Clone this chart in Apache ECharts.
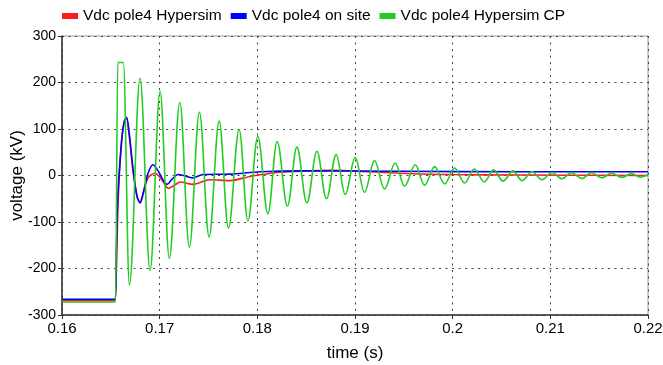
<!DOCTYPE html>
<html>
<head>
<meta charset="utf-8">
<script src="https://cdn.jsdelivr.net/npm/echarts@6/dist/echarts.min.js"></script>
<style>
html,body{margin:0;padding:0;background:#fff;}
#chart{width:663px;height:365px;}
</style>
</head>
<body>
<div id="chart"></div>
<script>
// ---- data (time in s, voltage in kV) ----
var seriesNames = ['Vdc pole4 Hypersim', 'Vdc pole4 on site', 'Vdc pole4 Hypersim CP'];

var hypersimT = [0.16, 0.16538, 0.16553, 0.16574, 0.16605, 0.16635, 0.16661, 0.16686, 0.16727, 0.16768,
  0.16799, 0.16830, 0.16881, 0.16953, 0.17025, 0.17091, 0.17158, 0.17209, 0.17342, 0.17516,
  0.17721, 0.17926, 0.18049, 0.18234, 0.18746, 0.19463, 0.19975, 0.20693, 0.22];
var hypersimV = [-269, -269, -230, -60, 60, 115, 122, 90, 10, -45,
  -58, -40, -5, 5, -10, -28, -20, -14, -19, -9,
  -11, -2, 2, 7, 11, 5, 2, 1, 0];

var onSiteT = [0.16, 0.16543, 0.16558, 0.16569, 0.16584, 0.16615, 0.16640, 0.16661, 0.16686, 0.16727,
  0.16768, 0.16799, 0.16840, 0.16881, 0.16932, 0.16984, 0.17035, 0.17076, 0.17127, 0.17189,
  0.17260, 0.17332, 0.17445, 0.17721, 0.18029, 0.18439, 0.19463, 0.20693, 0.22];
var onSiteV = [-266, -266, -150, -60, 0, 85, 118, 125, 95, 15,
  -45, -59, -30, 5, 23, 10, -10, -19, -8, 2,
  -1, -5, 2, 3, 8, 10, 9, 8, 8];

var cpT = [0.16, 0.16548, 0.16571, 0.16628, 0.16690, 0.16799, 0.16902, 0.17004, 0.17099, 0.17206,
  0.17304, 0.17407, 0.17506, 0.17609, 0.17704, 0.17814, 0.17903, 0.18005, 0.18108, 0.18203,
  0.18308, 0.18405, 0.18507, 0.18610, 0.18708, 0.18807, 0.18900, 0.19002, 0.19097, 0.19200,
  0.19302, 0.19412, 0.19507, 0.19617, 0.19712, 0.19815, 0.19917, 0.20020, 0.20122, 0.20221,
  0.20324, 0.20419, 0.20515, 0.20618, 0.20710, 0.20812, 0.20915, 0.21017, 0.21120, 0.21215,
  0.21325, 0.21420, 0.21530, 0.21625, 0.21735, 0.21830, 0.21922, 0.22];
var cpV = [-272, -272, 243, 243, -236, 209, -204, 181, -178, 157,
  -154, 136, -132, 117, -113, 99, -98, 84, -82, 73,
  -66, 61, -59, 52, -50, 45, -41, 39, -36, 32,
  -29, 27, -23, 23, -21, 19, -18, 16, -16, 14,
  -14, 12, -12, 10, -11, 8, -9, 6.5, -7, 6,
  -6.5, 6, -5, 5, -4, 4, -3.6, 2];

var xTicks = {min: 0.16, max: 0.22, interval: 0.01};
var yTicks = {min: -300, max: 300, interval: 100};

function pairs(t, v) { return t.map(function (x, i) { return [x, v[i]]; }); }

var chart = echarts.init(document.getElementById('chart'), null, {renderer: 'canvas'});
var font = '"Liberation Sans", Arial, sans-serif';
var gridDash = {type: [2, 4.5], color: '#444', width: 1};

chart.setOption({
  animation: false,
  backgroundColor: '#fff',
  legend: {
    top: 8, left: 62, padding: 0,
    itemWidth: 16, itemHeight: 6, itemGap: 9,
    icon: 'rect',
    textStyle: {fontFamily: font, fontSize: 15.5, color: '#000'},
    data: seriesNames
  },
  grid: {left: 62, right: 15, top: 36, bottom: 50, show: true, borderColor: '#999', borderWidth: 1,
    containLabel: false, outerBoundsMode: 'none'},
  xAxis: {
    type: 'value', min: xTicks.min, max: xTicks.max, interval: xTicks.interval,
    name: 'time (s)', nameLocation: 'middle', nameGap: 30, nameMoveOverlap: false,
    nameTextStyle: {fontFamily: font, fontSize: 17, color: '#000'},
    axisLine: {show: true, onZero: false, lineStyle: {color: '#333', width: 1.5}},
    axisTick: {show: true, length: 4, lineStyle: {color: '#333'}},
    axisLabel: {fontFamily: font, fontSize: 15, color: '#000', margin: 6},
    splitLine: {show: true, lineStyle: gridDash}
  },
  yAxis: {
    type: 'value', min: yTicks.min, max: yTicks.max, interval: yTicks.interval,
    name: 'voltage (kV)', nameLocation: 'middle', nameGap: 36, nameMoveOverlap: false,
    nameTextStyle: {fontFamily: font, fontSize: 17, color: '#000'},
    axisLine: {show: true, onZero: false, lineStyle: {color: '#333', width: 1.5}},
    axisTick: {show: true, length: 4, lineStyle: {color: '#333'}},
    axisLabel: {fontFamily: font, fontSize: 14, color: '#000', margin: 6},
    splitLine: {show: true, lineStyle: gridDash}
  },
  series: [
    {name: seriesNames[0], type: 'line', data: pairs(hypersimT, hypersimV), showSymbol: false,
      smooth: 0.3, lineStyle: {color: '#ff1a1a', width: 1.6}, itemStyle: {color: '#ff1a1a'}, z: 3},
    {name: seriesNames[1], type: 'line', data: pairs(onSiteT, onSiteV), showSymbol: false,
      smooth: 0.3, lineStyle: {color: '#0000ff', width: 1.6}, itemStyle: {color: '#0000ff'}, z: 4},
    {name: seriesNames[2], type: 'line', data: pairs(cpT, cpV), showSymbol: false,
      smooth: 0.36, smoothMonotone: 'x', lineStyle: {color: '#22cc22', width: 1.6}, itemStyle: {color: '#22cc22'}, z: 5}
  ]
});
</script>
</body>
</html>
